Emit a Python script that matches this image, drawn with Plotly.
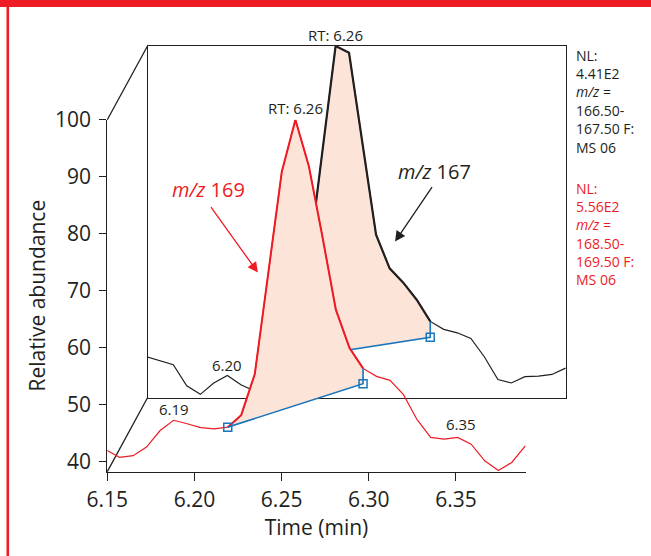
import plotly.graph_objects as go

# ---------------- data ----------------
time_min = [6.1493, 6.1570, 6.1648, 6.1725, 6.1803, 6.1880, 6.1958, 6.2036, 6.2113, 6.2191,
            6.2268, 6.2346, 6.2424, 6.2501, 6.2579, 6.2656, 6.2734, 6.2811, 6.2889, 6.2967,
            6.3044, 6.3122, 6.3199, 6.3277, 6.3355, 6.3432, 6.3510, 6.3587, 6.3665, 6.3743,
            6.3820, 6.3898]
# m/z 169 (front trace, red)
mz169 = [42.1, 40.8, 41.1, 42.6, 45.5, 47.3, 46.7, 46.0, 45.8, 46.1,
         48.2, 55.4, 73.2, 90.9, 100.0, 91.9, 79.5, 66.7, 60.0, 56.4,
         55.0, 54.3, 51.8, 47.4, 44.3, 44.0, 44.3, 43.1, 40.2, 38.5,
         39.9, 42.8]
# m/z 167 (back trace, black)
mz167 = [45.5, 44.8, 44.1, 40.4, 38.9, 40.9, 42.2, 40.6, 39.5, 44.5,
         46.0, 50.0, 62.1, 81.0, 100.0, 98.8, 83.0, 66.9, 61.0, 58.5,
         55.5, 51.7, 50.3, 49.7, 48.7, 45.5, 41.5, 40.9, 42.0, 42.1,
         42.4, 43.5]

# integration baselines (start/end time, start/end abundance)
base169_t = [6.2191, 6.2967]
base169_y = [46.1, 53.7]
base167_t = [6.2191, 6.3122]
base167_y = [44.5, 48.9]

peak_rt = 6.2579
x_ticks = [6.15, 6.20, 6.25, 6.30, 6.35]
y_ticks = [40, 50, 60, 70, 80, 90, 100]
x_range = [6.15, 6.39]
y_range = [38.3, 100]

nl167_lines = ["NL:", "4.41E2", "<i>m/z</i> =", "166.50-", "167.50 F:", "MS 06"]
nl169_lines = ["NL:", "5.56E2", "<i>m/z</i> =", "168.50-", "169.50 F:", "MS 06"]

# ---------------- styles ----------------
RED = "#ED1C24"
INK = "#231F20"
BLUE = "#1B75BB"
PINK = "#FCE4D8"
FONT = "Open Sans"
W, H = 651, 556

def px_x(p):
    return p / W

def px_y(p):
    return 1 - p / H

# front (red) panel and back (black) panel positions in pixels
fx0, fx1, fy_top, fy_bot = 107.3, 525.7, 119.8, 471.6
dx, dy = 40.2, -73.8
bx0, bx1, by_top, by_bot = fx0 + dx, fx1 + dx, fy_top + dy, fy_bot + dy

fig = go.Figure()

# ---------- back panel (xaxis / yaxis) ----------
i0, i1 = time_min.index(base167_t[0]), time_min.index(base167_t[1])
fig.add_trace(go.Scatter(
    x=time_min[i0:i1 + 1] + [base167_t[1], base167_t[0]],
    y=mz167[i0:i1 + 1] + [base167_y[1], base167_y[0]],
    fill="toself", fillcolor=PINK, line=dict(width=0), mode="lines",
    hoverinfo="skip", xaxis="x", yaxis="y"))
fig.add_trace(go.Scatter(x=time_min, y=mz167, mode="lines",
                         line=dict(color=INK, width=1.2), xaxis="x", yaxis="y"))
fig.add_trace(go.Scatter(x=time_min[i0:i1 + 1], y=mz167[i0:i1 + 1], mode="lines",
                         line=dict(color=INK, width=2.2), xaxis="x", yaxis="y"))
fig.add_trace(go.Scatter(x=[base167_t[0], base167_t[1], base167_t[1]],
                         y=[base167_y[0], base167_y[1], mz167[i1]], mode="lines",
                         line=dict(color=BLUE, width=1.6), xaxis="x", yaxis="y"))
fig.add_trace(go.Scatter(x=base167_t, y=base167_y, mode="markers",
                         marker=dict(symbol="square-open", size=8, color=BLUE,
                                     line=dict(width=1.5, color=BLUE)),
                         xaxis="x", yaxis="y"))

# ---------- front panel (xaxis2 / yaxis2) ----------
j0, j1 = time_min.index(base169_t[0]), time_min.index(base169_t[1])
fig.add_trace(go.Scatter(
    x=time_min[j0:j1 + 1] + [base169_t[1], base169_t[0]],
    y=mz169[j0:j1 + 1] + [base169_y[1], base169_y[0]],
    fill="toself", fillcolor=PINK, line=dict(width=0), mode="lines",
    hoverinfo="skip", xaxis="x2", yaxis="y2"))
fig.add_trace(go.Scatter(x=time_min, y=mz169, mode="lines",
                         line=dict(color=RED, width=1.2), xaxis="x2", yaxis="y2"))
fig.add_trace(go.Scatter(x=time_min[j0:j1 + 1], y=mz169[j0:j1 + 1], mode="lines",
                         line=dict(color=RED, width=2.0), xaxis="x2", yaxis="y2"))
fig.add_trace(go.Scatter(x=[base169_t[0], base169_t[1], base169_t[1]],
                         y=[base169_y[0], base169_y[1], mz169[j1]], mode="lines",
                         line=dict(color=BLUE, width=1.6), xaxis="x2", yaxis="y2"))
fig.add_trace(go.Scatter(x=base169_t, y=base169_y, mode="markers",
                         marker=dict(symbol="square-open", size=8, color=BLUE,
                                     line=dict(width=1.5, color=BLUE)),
                         xaxis="x2", yaxis="y2"))

axis_common = dict(showgrid=False, zeroline=False, linecolor=INK, linewidth=1.3,
                   showline=True, automargin=False)

fig.update_layout(
    template="none",
    width=W, height=H, margin=dict(l=0, r=0, t=0, b=0, pad=0, autoexpand=False),
    paper_bgcolor="white", plot_bgcolor="rgba(0,0,0,0)",
    showlegend=False,
    font=dict(family=FONT, color=INK),
    xaxis=dict(domain=[px_x(bx0), px_x(bx1)], range=x_range, anchor="y",
               mirror=True, ticks="", showticklabels=False, **axis_common),
    yaxis=dict(domain=[px_y(by_bot), px_y(by_top)], range=y_range, anchor="x",
               mirror=True, ticks="", showticklabels=False, **axis_common),
    xaxis2=dict(domain=[px_x(fx0), px_x(fx1)], range=x_range, anchor="y2",
                ticks="outside", ticklen=8, tickwidth=1.3, tickcolor=INK,
                tickvals=x_ticks, tickformat=".2f", tickfont=dict(size=21, color=INK),
                ticklabelstandoff=1,
                title=dict(text="Time (min)", font=dict(size=21, color=INK), standoff=5),
                **axis_common),
    yaxis2=dict(domain=[px_y(fy_bot), px_y(fy_top)], range=y_range, anchor="x2",
                ticks="outside", ticklen=7, tickwidth=1.3, tickcolor=INK,
                tickvals=y_ticks, tickfont=dict(size=21, color=INK),
                ticklabelstandoff=4,
                title=dict(text="Relative abundance", font=dict(size=21, color=INK), standoff=3),
                **axis_common),
)

shapes = [
    # left perspective edges joining the front axes to the back panel
    dict(type="line", xref="paper", yref="paper", x0=px_x(fx0), y0=px_y(fy_top),
         x1=px_x(bx0), y1=px_y(by_top), line=dict(color=INK, width=1.3), layer="below"),
    dict(type="line", xref="paper", yref="paper", x0=px_x(fx0), y0=px_y(fy_bot),
         x1=px_x(bx0), y1=px_y(by_bot), line=dict(color=INK, width=1.3), layer="below"),
    # red frame: top bar and left rule
    dict(type="rect", xref="paper", yref="paper", x0=0, x1=1, y0=px_y(7), y1=1,
         fillcolor=RED, line=dict(width=0), layer="above"),
    dict(type="line", xref="paper", yref="paper", x0=px_x(7.8), x1=px_x(7.8), y0=0, y1=1,
         line=dict(color=RED, width=2.6), layer="above"),
]
fig.update_layout(shapes=shapes)

ann = []
# peak labels
ann.append(dict(x=peak_rt, y=100, xref="x", yref="y", text="RT: 6.26", showarrow=False,
                yshift=11, font=dict(size=15, color=INK)))
ann.append(dict(x=peak_rt, y=100, xref="x2", yref="y2", text="RT: 6.26", showarrow=False,
                yshift=12, font=dict(size=15, color=INK)))
# local maxima labels
ann.append(dict(x=time_min[6], y=mz167[6], xref="x", yref="y", text="6.20", showarrow=False,
                yshift=11, font=dict(size=15, color=INK)))
ann.append(dict(x=time_min[5], y=mz169[5], xref="x2", yref="y2", text="6.19", showarrow=False,
                yshift=11, font=dict(size=15, color=INK)))
ann.append(dict(x=time_min[26], y=mz169[26], xref="x2", yref="y2", text="6.35", showarrow=False,
                xshift=3, yshift=13, font=dict(size=15, color=INK)))
# series labels
ann.append(dict(x=6.2083, y=87.7, xref="x2", yref="y2", text="<i>m/z</i> 169", showarrow=False,
                font=dict(size=20, color=RED)))
ann.append(dict(x=6.3144, y=78.0, xref="x", yref="y", text="<i>m/z</i> 167", showarrow=False,
                font=dict(size=20, color=INK)))
# arrows
ann.append(dict(x=6.2364, y=73.2, xref="x2", yref="y2", text="", showarrow=True,
                axref="pixel", ayref="pixel", ax=-48, ay=-67, arrowhead=2, arrowsize=1.6,
                arrowwidth=1.3, arrowcolor=RED, standoff=0))
ann.append(dict(x=6.2920, y=65.7, xref="x", yref="y", text="", showarrow=True,
                axref="pixel", ayref="pixel", ax=38, ay=-56, arrowhead=2, arrowsize=1.6,
                arrowwidth=1.3, arrowcolor=INK, standoff=0))
# normalisation level text blocks
for k, line in enumerate(nl167_lines):
    ann.append(dict(x=px_x(574), y=px_y(55 + 18.4 * k), xref="paper", yref="paper",
                    xanchor="left", yanchor="middle", text=line, showarrow=False,
                    font=dict(size=14, color=INK)))
for k, line in enumerate(nl169_lines):
    ann.append(dict(x=px_x(574), y=px_y(188.3 + 18.3 * k), xref="paper", yref="paper",
                    xanchor="left", yanchor="middle", text=line, showarrow=False,
                    font=dict(size=14, color=RED)))
fig.update_layout(annotations=ann)

fig.write_html(
    "out.html",
    config={"displayModeBar": False},
    post_script="document.body.style.margin='0px';document.body.style.overflow='hidden';",
)
